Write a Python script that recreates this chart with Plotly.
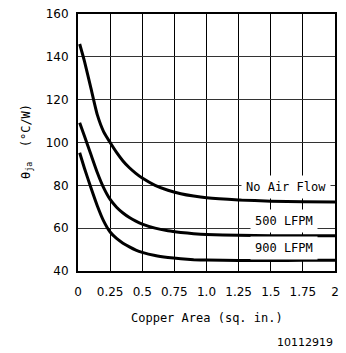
import plotly.graph_objects as go

# Copper area (sq. in.) sample points
copper_area = [0.013, 0.05, 0.1, 0.15, 0.2, 0.25, 0.3, 0.35, 0.4, 0.45, 0.5,
               0.6, 0.7, 0.8, 0.9, 1.0, 1.25, 1.5, 1.75, 2.0]

# Thermal resistance theta_ja (°C/W) for each airflow condition
no_air_flow = [146, 138, 125.5, 113, 105, 100, 95.4, 91.4, 88.2, 85.6, 83.4,
               80, 77.7, 76.1, 75, 74.2, 73.2, 72.6, 72.3, 72.2]
lfpm_500 = [109.2, 103, 94.5, 86, 78.8, 73.4, 69.8, 67.1, 65, 63.3, 61.9,
            60, 58.8, 58, 57.4, 57, 56.7, 56.5, 56.5, 56.5]
lfpm_900 = [95.2, 88, 79, 70.5, 63.3, 58.2, 55.2, 53, 51.3, 49.8, 48.7,
            47.2, 46.3, 45.7, 45.3, 45.1, 44.9, 44.9, 45, 45]

series_names = ["No Air Flow", "500 LFPM", "900 LFPM"]
series_values = [no_air_flow, lfpm_500, lfpm_900]

# Inline label positions (x, y) in data units
label_pos = [(1.62, 79.2), (1.6, 63.3), (1.6, 50.7)]

x_ticks = [0, 0.25, 0.5, 0.75, 1.0, 1.25, 1.5, 1.75, 2]
x_tick_text = ["0", "0.25", "0.5", "0.75", "1.0", "1.25", "1.5", "1.75", "2"]
y_ticks = [40, 60, 80, 100, 120, 140, 160]

MONO = "DejaVu Sans Mono"
SANS = "DejaVu Sans"

fig = go.Figure()
for name, vals in zip(series_names, series_values):
    fig.add_trace(go.Scatter(
        x=copper_area, y=vals, mode="lines", name=name,
        line=dict(color="black", width=3, shape="spline", smoothing=0.5),
        showlegend=False, hoverinfo="skip",
    ))

annotations = []
for name, (lx, ly) in zip(series_names, label_pos):
    annotations.append(dict(
        x=lx, y=ly, xref="x", yref="y", text=name, showarrow=False,
        font=dict(family=MONO, size=12, color="black"),
        bgcolor="white", borderpad=4, xanchor="center", yanchor="middle",
    ))

annotations += [
    dict(x=0.5, y=-0.181, xref="paper", yref="paper",
         text="Copper Area (sq. in.)", showarrow=False,
         font=dict(family=MONO, size=12, color="black"),
         xanchor="center", yanchor="middle"),
    dict(x=-0.201, y=0.503, xref="paper", yref="paper",
         text="θ<sub>ja</sub>  (°C/W)", showarrow=False, textangle=-90,
         font=dict(family=MONO, size=12, color="black"),
         xanchor="center", yanchor="middle"),
    dict(x=1.0, y=-0.278, xref="paper", yref="paper",
         text="10112919", showarrow=False,
         font=dict(family=SANS, size=11, color="black"),
         xanchor="right", yanchor="middle"),
]

fig.update_layout(
    width=346, height=353,
    margin=dict(l=77.5, r=7.5, t=14, b=81.5),
    paper_bgcolor="white", plot_bgcolor="white",
    annotations=annotations,
    xaxis=dict(
        range=[0, 2], tickvals=x_ticks, ticktext=x_tick_text,
        showgrid=True, gridcolor="black", gridwidth=1,
        showline=True, linecolor="black", linewidth=2, mirror=True,
        ticks="", ticklabelstandoff=9, zeroline=False,
        tickfont=dict(family=SANS, size=12, color="black"),
    ),
    yaxis=dict(
        range=[40, 160], tickvals=y_ticks,
        showgrid=True, gridcolor="#333333", gridwidth=1,
        showline=True, linecolor="black", linewidth=2, mirror=True,
        ticks="", ticklabelstandoff=5, zeroline=False,
        tickfont=dict(family=SANS, size=12, color="black"),
    ),
)

fig.write_html("out.html")
